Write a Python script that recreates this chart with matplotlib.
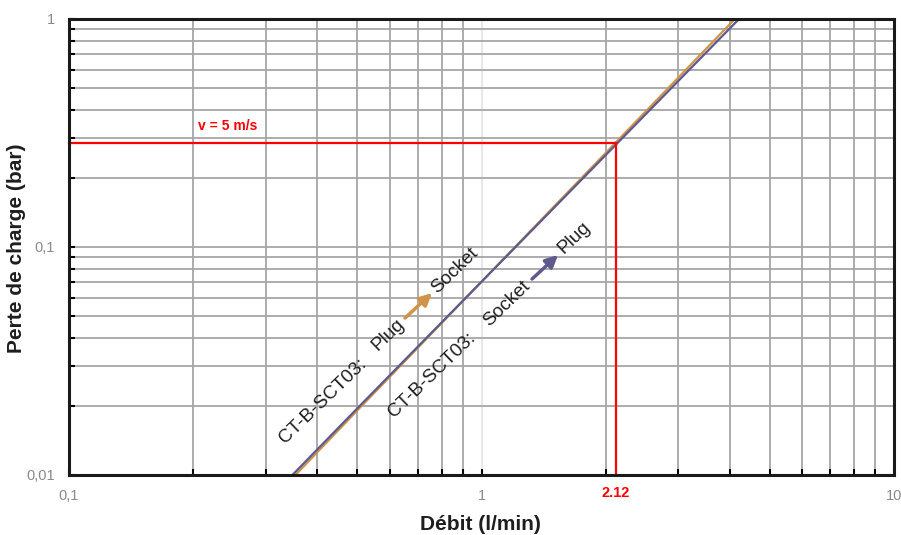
import matplotlib
matplotlib.use("Agg")
import matplotlib.pyplot as plt
from matplotlib.ticker import LogLocator, NullFormatter
import matplotlib.transforms as mtransforms

plt.rcParams['font.family'] = ['Liberation Sans', 'DejaVu Sans']

# Pressure drop curves (flow in l/min, pressure drop in bar)
flow_plug_to_socket = [0.354, 0.5, 1.0, 2.0, 4.2]
dp_plug_to_socket = [0.0100, 0.0192, 0.0704, 0.2585, 1.04]

flow_socket_to_plug = [0.348, 0.5, 1.0, 2.0, 4.3]
dp_socket_to_plug = [0.0100, 0.0196, 0.0704, 0.2530, 1.04]

# Operating point at v = 5 m/s
flow_v5 = 2.12
dp_v5 = 0.285

x_ticks = [0.1, 1, 10]
x_tick_labels = ['0,1', '1', '10']
y_ticks = [0.01, 0.1, 1]
y_tick_labels = ['0,01', '0,1', '1']

ORANGE = '#D0934A'
PURPLE = '#5C5A8E'
RED = '#FF0000'
GRID = '#A6A6A6'
TICKTXT = '#8A8A8A'
TXT = '#1E1E1E'

fig = plt.figure(figsize=(9.01, 5.35), dpi=100)
ax = fig.add_axes([69 / 901, 1 - 475 / 535, (894 - 69) / 901, (475 - 19) / 535])

ax.set_xscale('log')
ax.set_yscale('log')
ax.set_xlim(0.1, 10)
ax.set_ylim(0.01, 1)

ax.set_xticks(x_ticks)
ax.set_xticklabels(x_tick_labels)
ax.set_yticks(y_ticks)
ax.set_yticklabels(y_tick_labels)
ax.xaxis.set_minor_locator(LogLocator(base=10, subs=range(2, 10)))
ax.yaxis.set_minor_locator(LogLocator(base=10, subs=range(2, 10)))
ax.xaxis.set_minor_formatter(NullFormatter())
ax.yaxis.set_minor_formatter(NullFormatter())

ax.tick_params(which='both', direction='in', length=4, width=1.5, color='black',
               labelsize=10.5, labelcolor=TICKTXT)
ax.tick_params(axis='y', which='major', pad=10)
ax.tick_params(axis='x', which='major', pad=10)

ax.set_axisbelow(True)
ax.grid(which='both', color=GRID, lw=1.3)
# the major vertical line at 1 l/min is drawn in a very pale tone
for tick in ax.xaxis.get_major_ticks():
    if abs(tick.get_loc() - 1) < 1e-9:
        tick.gridline.set_color('#E6E6E6')

for sp in ax.spines.values():
    sp.set_linewidth(2.2)
    sp.set_color('#1A1A1A')
    sp.set_zorder(5)

# curves
ax.plot(flow_plug_to_socket, dp_plug_to_socket, color=ORANGE, lw=1.6, zorder=3)
ax.plot(flow_socket_to_plug, dp_socket_to_plug, color=PURPLE, lw=1.6, zorder=3)

# v = 5 m/s guide lines
ax.plot([0.1, flow_v5], [dp_v5, dp_v5], color=RED, lw=1.6, zorder=4, clip_on=False)
ax.plot([flow_v5, flow_v5], [0.01, dp_v5], color=RED, lw=1.6, zorder=4, clip_on=False)
ax.text(0.243, 0.339, 'v = 5 m/s', color=RED, fontsize=10, fontweight='bold',
        ha='center', va='center')

# flow value label under the axis
trans = mtransforms.blended_transform_factory(ax.transData, ax.transAxes)
ax.text(flow_v5, -18 / 456, '2.12', transform=trans, color=RED, fontsize=10.5,
        fontweight='bold', ha='center', va='center')

# direction annotations
rot = 44
tkw = dict(rotation=rot, rotation_mode='anchor', ha='left', va='baseline',
           fontsize=13.7, color=TXT)
ax.text(0.334, 0.01368, 'CT-B-SCT03:', **tkw)
ax.text(0.561, 0.0350, 'Plug', **tkw)
ax.text(0.780, 0.0622, 'Socket', **tkw)
ax.annotate('', xy=(0.7586, 0.0628), xytext=(0.6525, 0.0488),
            arrowprops=dict(arrowstyle='-|>', color=ORANGE, lw=2.5,
                            mutation_scale=18, shrinkA=0, shrinkB=0))

ax.text(0.614, 0.01778, 'CT-B-SCT03:', **tkw)
ax.text(1.043, 0.0446, 'Socket', **tkw)
ax.text(1.585, 0.0932, 'Plug', **tkw)
ax.annotate('', xy=(1.533, 0.0922), xytext=(1.326, 0.0724),
            arrowprops=dict(arrowstyle='-|>', color=PURPLE, lw=2.5,
                            mutation_scale=18, shrinkA=0, shrinkB=0))

# axis titles
fig.text(17 / 901, 1 - 248 / 535, 'Perte de charge (bar)', rotation=90,
         ha='center', va='center', fontsize=15, fontweight='bold', color=TXT)
fig.text(480 / 901, 1 - 524 / 535, 'Débit (l/min)', ha='center', va='center',
         fontsize=15, fontweight='bold', color=TXT)

fig.savefig('out.png', dpi=100)
